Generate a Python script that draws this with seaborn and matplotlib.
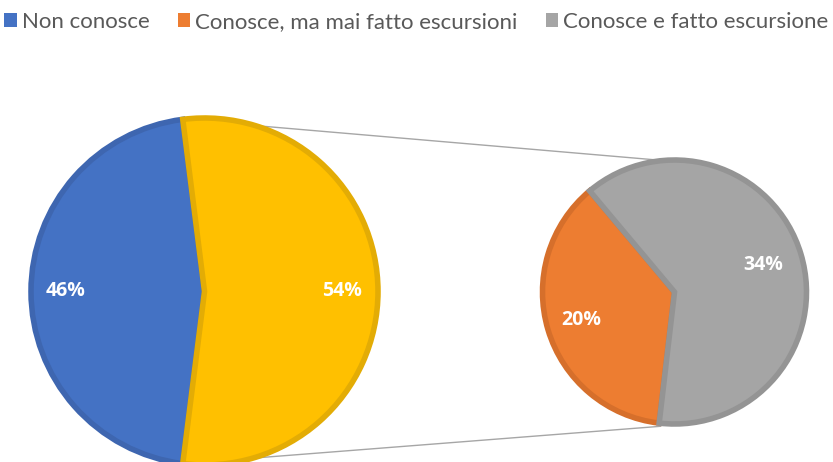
import numpy as np
import matplotlib
matplotlib.use("Agg")
import matplotlib.pyplot as plt
import seaborn as sns
from matplotlib.patches import Patch

# Data
main_labels = ["Non conosce", "Altro"]
main_values = [46, 54]
sub_labels = ["Conosce, ma mai fatto escursioni", "Conosce e fatto escursione"]
sub_values = [20, 34]
legend_labels = ["Non conosce", "Conosce, ma mai fatto escursioni", "Conosce e fatto escursione"]

sns.set_theme(style="white")
plt.rcParams['font.family'] = ['Lato', 'DejaVu Sans']

blue, yellow, orange, gray = "#4472C4", "#FFC000", "#ED7D31", "#A5A5A5"
blue_e, yellow_e, orange_e, gray_e = "#3E66B0", "#E3AC05", "#D66F2B", "#949494"

W, H = 833, 462
fig = plt.figure(figsize=(W / 100, H / 100), dpi=100)
ax = fig.add_axes([0, 0, 1, 1])

# main pie
c1 = (204.5, H - 291.5)
r1 = 173.5
start1 = 97.2
w1 = ax.pie(main_values, colors=[blue, yellow], startangle=start1, counterclock=True,
            center=c1, radius=r1, frame=True,
            wedgeprops=dict(edgecolor="none"))[0]
for w, ec in zip(w1, [blue_e, yellow_e]):
    w.set_edgecolor(ec)
    w.set_linewidth(4)

# sub pie
c2 = (674.5, H - 292)
r2 = 132
start2 = 130
w2 = ax.pie(sub_values, colors=[orange, gray], startangle=start2, counterclock=True,
            center=c2, radius=r2, frame=True,
            wedgeprops=dict(edgecolor="none"))[0]
for w, ec in zip(w2, [orange_e, gray_e]):
    w.set_edgecolor(ec)
    w.set_linewidth(4)

ax.set_xlim(0, W)
ax.set_ylim(0, H)
ax.set_aspect("equal")
ax.axis("off")

# labels
def label(center, r, values, start, frac, idx, text):
    tot = sum(values)
    a0 = start + 360 * sum(values[:idx]) / tot
    a1 = a0 + 360 * values[idx] / tot
    am = np.deg2rad((a0 + a1) / 2)
    ax.text(center[0] + frac * r * np.cos(am), center[1] + frac * r * np.sin(am), text,
            ha="center", va="center", color="white", fontsize=14, fontweight="bold",
            family=['Open Sans', 'DejaVu Sans'])

label(c1, r1, main_values, start1, 0.8, 0, f"{main_values[0]}%")
label(c1, r1, main_values, start1, 0.79, 1, f"{main_values[1]}%")
label(c2, r2, sub_values, start2, 0.74, 0, f"{sub_values[0]}%")
label(c2, r2, sub_values, start2, 0.70, 1, f"{sub_values[1]}%")

# connector lines
tot1 = sum(main_values)
top_a = np.deg2rad(start1 + 360.0)
bot_a = np.deg2rad(start1 + 360 * main_values[0] / tot1)
p_top = (c1[0] + r1 * np.cos(top_a), c1[1] + r1 * np.sin(top_a))
p_bot = (c1[0] + r1 * np.cos(bot_a), c1[1] + r1 * np.sin(bot_a))
q_top = (c2[0] + r2 * np.cos(np.deg2rad(95)), c2[1] + r2 * np.sin(np.deg2rad(95)))
q_bot = (c2[0] + r2 * np.cos(np.deg2rad(264)), c2[1] + r2 * np.sin(np.deg2rad(264)) - 3)
ax.plot([p_top[0], q_top[0]], [p_top[1], q_top[1]], color="#A6A6A6", lw=1, zorder=0)
ax.plot([p_bot[0], q_bot[0]], [p_bot[1], q_bot[1]], color="#A6A6A6", lw=1, zorder=0)

# legend
handles = [Patch(facecolor=c, edgecolor="none") for c in [blue, orange, gray]]
leg = fig.legend(handles, legend_labels, loc="center", bbox_to_anchor=(0.5, 1 - 22 / H),
                 ncol=3, frameon=False, fontsize=16, handlelength=0.55, handleheight=0.55,
                 handletextpad=0.25, columnspacing=1.25)
for t in leg.get_texts():
    t.set_color("#595959")

fig.savefig("out.png", dpi=100)
